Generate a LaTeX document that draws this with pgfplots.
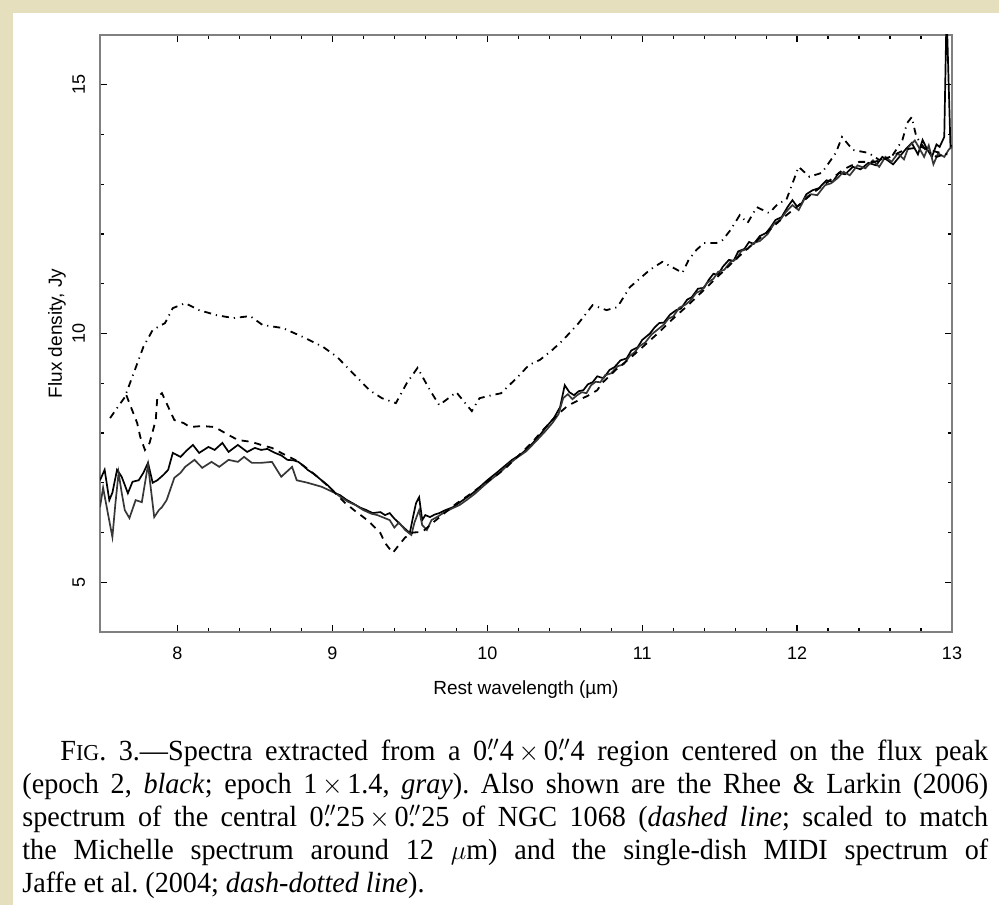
\documentclass[border=0pt]{standalone}
\usepackage{fontspec}
\setmainfont{Liberation Serif}
\newfontfamily\plotfont{Liberation Sans}
\usepackage{pgfplots}
\pgfplotsset{compat=1.18}
\definecolor{parch}{RGB}{230,223,190}
\definecolor{grayline}{RGB}{55,55,55}
\newcommand{\farcs}{\rlap{.}\kern0.02em$''$}
\newcommand{\tms}{\,$\times$\,}
\begin{document}
\begin{tikzpicture}
\useasboundingbox (0,0) rectangle (499.5pt,452.5pt);
\fill[parch] (0,0) rectangle (499.5pt,452.5pt);
\fill[white] (6.5pt,0) rectangle (499.5pt,446pt);
\begin{axis}[
  at={(50pt,136.5pt)}, anchor=south west,
  scale only axis, width=426pt, height=298.5pt,
  xmin=7.5, xmax=13, ymin=4, ymax=16,
  xtick={8,9,10,11,12,13}, ytick={5,10,15},
  minor x tick num=4, minor y tick num=4,
  tick align=inside, tickpos=both,
  major tick length=3.5pt, minor tick length=2pt,
  every tick/.style={black, line width=0.6pt},
  axis line style={line width=1.2pt, black!50},
  /pgf/number format/assume math mode=true,
  ticklabel style={font=\plotfont\fontsize{9}{10}\selectfont},
  xticklabel style={yshift=-4pt},
  yticklabel style={xshift=-4pt, rotate=90, anchor=south},
  xlabel={Rest wavelength (µm)}, ylabel={Flux density, Jy},
  every axis x label/.style={at={(axis description cs:0.5,0)}, yshift=-29pt, anchor=center, font=\plotfont\fontsize{9.5}{11}\selectfont},
  every axis y label/.style={at={(axis description cs:0,0.5)}, xshift=-21.5pt, rotate=90, anchor=center, font=\plotfont\fontsize{9.5}{11}\selectfont},
  clip=true,
]
% epoch 2 (black)
\addplot[black, line width=0.85pt] coordinates {
(7.50,7.05)(7.53,7.26)(7.56,6.65)(7.58,6.8)(7.61,7.26)(7.64,7.12)(7.68,6.79)(7.71,7.02)(7.75,7.05)(7.78,7.2)(7.81,7.40)(7.84,7.0)(7.87,7.05)(7.91,7.16)(7.94,7.26)(7.97,7.60)(8.02,7.52)(8.06,7.65)(8.10,7.76)(8.14,7.60)(8.20,7.72)(8.24,7.66)(8.29,7.80)(8.33,7.62)(8.39,7.76)(8.45,7.62)(8.50,7.70)(8.54,7.66)(8.58,7.68)(8.63,7.60)(8.67,7.55)(8.71,7.46)(8.75,7.45)(8.78,7.42)(8.81,7.35)(8.84,7.26)(8.88,7.18)(8.93,7.05)(8.97,6.95)(9.02,6.79)(9.05,6.75)(9.09,6.66)(9.13,6.59)(9.18,6.50)(9.22,6.45)(9.26,6.39)(9.31,6.41)(9.34,6.35)(9.37,6.39)(9.40,6.28)(9.43,6.19)(9.46,6.10)(9.50,5.99)(9.52,6.3)(9.54,6.59)(9.56,6.71)(9.58,6.25)(9.60,6.35)(9.63,6.31)(9.66,6.36)(9.69,6.39)(9.73,6.45)(9.78,6.51)(9.82,6.60)(9.87,6.71)(9.91,6.80)(9.95,6.91)(10.00,7.05)(10.06,7.20)(10.11,7.33)(10.16,7.46)(10.22,7.58)(10.27,7.72)(10.33,7.92)(10.38,8.12)(10.43,8.30)(10.47,8.52)(10.50,8.96)(10.53,8.82)(10.56,8.76)(10.59,8.84)(10.62,8.86)(10.65,8.98)(10.68,9.02)(10.71,9.14)(10.75,9.10)(10.79,9.27)(10.82,9.32)(10.86,9.46)(10.90,9.50)(10.93,9.66)(10.97,9.72)(11.00,9.87)(11.05,10.00)(11.08,10.12)(11.11,10.21)(11.14,10.22)(11.18,10.38)(11.22,10.47)(11.25,10.50)(11.29,10.68)(11.32,10.73)(11.36,10.90)(11.40,10.92)(11.43,11.08)(11.46,11.20)(11.49,11.18)(11.52,11.34)(11.56,11.48)(11.59,11.46)(11.62,11.65)(11.66,11.70)(11.69,11.84)(11.72,11.80)(11.76,11.96)(11.80,12.02)(11.83,12.14)(11.86,12.28)(11.90,12.34)(11.94,12.55)(11.97,12.68)(12.00,12.55)(12.03,12.62)(12.06,12.80)(12.10,12.88)(12.14,12.92)(12.19,13.08)(12.23,13.05)(12.27,13.23)(12.31,13.20)(12.36,13.35)(12.41,13.30)(12.46,13.43)(12.51,13.38)(12.55,13.55)(12.58,13.49)(12.62,13.40)(12.66,13.55)(12.70,13.70)(12.74,13.83)(12.78,13.60)(12.81,13.89)(12.84,13.70)(12.87,13.55)(12.90,13.80)(12.92,13.75)(12.95,13.95)(12.965,16.5)(12.99,13.75)(13.0,13.78)
};
% epoch 1 x 1.4 (gray)
\addplot[grayline, line width=0.85pt] coordinates {
(7.50,6.51)(7.52,6.9)(7.55,6.4)(7.58,5.91)(7.60,6.6)(7.62,7.20)(7.64,6.8)(7.66,6.45)(7.69,6.29)(7.73,6.65)(7.77,6.61)(7.81,7.36)(7.85,6.31)(7.88,6.45)(7.90,6.51)(7.93,6.65)(7.98,7.10)(8.02,7.20)(8.05,7.32)(8.11,7.46)(8.16,7.30)(8.22,7.42)(8.27,7.32)(8.33,7.46)(8.39,7.42)(8.43,7.52)(8.48,7.40)(8.54,7.40)(8.61,7.42)(8.67,7.12)(8.74,7.32)(8.77,7.05)(8.84,7.00)(8.93,6.92)(9.02,6.79)(9.06,6.70)(9.10,6.62)(9.15,6.55)(9.20,6.45)(9.25,6.38)(9.29,6.35)(9.33,6.30)(9.37,6.25)(9.40,6.10)(9.43,6.20)(9.47,6.05)(9.51,5.95)(9.53,6.20)(9.56,6.45)(9.58,6.15)(9.61,6.05)(9.64,6.25)(9.68,6.32)(9.72,6.40)(9.77,6.48)(9.82,6.55)(9.87,6.66)(9.92,6.78)(9.97,6.92)(10.03,7.08)(10.08,7.20)(10.13,7.35)(10.19,7.50)(10.25,7.63)(10.31,7.82)(10.37,8.02)(10.42,8.20)(10.46,8.38)(10.49,8.70)(10.52,8.78)(10.55,8.68)(10.58,8.76)(10.61,8.82)(10.64,8.80)(10.67,8.96)(10.70,9.03)(10.73,9.02)(10.76,9.16)(10.80,9.20)(10.84,9.34)(10.88,9.38)(10.92,9.55)(10.95,9.62)(10.98,9.74)(11.02,9.82)(11.06,9.98)(11.10,10.08)(11.14,10.18)(11.17,10.30)(11.20,10.34)(11.24,10.52)(11.28,10.58)(11.31,10.66)(11.35,10.82)(11.38,10.86)(11.42,11.02)(11.46,11.10)(11.49,11.24)(11.53,11.28)(11.57,11.44)(11.61,11.50)(11.64,11.66)(11.68,11.70)(11.72,11.82)(11.76,11.86)(11.81,12.00)(11.85,12.20)(11.89,12.28)(11.93,12.45)(11.97,12.58)(12.01,12.48)(12.05,12.72)(12.09,12.80)(12.13,12.78)(12.18,12.98)(12.22,13.02)(12.26,13.12)(12.30,13.25)(12.34,13.18)(12.39,13.38)(12.44,13.32)(12.49,13.48)(12.53,13.35)(12.57,13.55)(12.61,13.45)(12.65,13.62)(12.69,13.50)(12.72,13.75)(12.76,13.88)(12.79,13.72)(12.82,13.55)(12.85,13.78)(12.88,13.40)(12.91,13.62)(12.95,13.55)(12.98,13.70)(13.00,13.75)
};
% Rhee & Larkin (dashed)
\addplot[black, line width=0.9pt, dash pattern=on 3.5pt off 3pt] coordinates {
(7.67,8.76)(7.74,8.20)(7.76,7.92)(7.79,7.66)(7.82,7.80)(7.86,8.26)(7.87,8.72)(7.90,8.80)(7.95,8.46)(7.98,8.26)(8.04,8.20)(8.08,8.12)(8.16,8.14)(8.24,8.12)(8.33,7.96)(8.39,7.86)(8.48,7.82)(8.54,7.76)(8.61,7.70)(8.67,7.60)(8.76,7.46)(8.84,7.28)(8.92,7.08)(9.00,6.85)(9.08,6.60)(9.14,6.45)(9.20,6.31)(9.24,6.21)(9.31,5.99)(9.34,5.79)(9.39,5.59)(9.42,5.71)(9.47,5.90)(9.52,6.00)(9.58,6.01)(9.65,6.20)(9.72,6.38)(9.80,6.58)(9.88,6.75)(9.99,7.00)(10.06,7.15)(10.12,7.30)(10.18,7.48)(10.24,7.66)(10.30,7.85)(10.36,8.06)(10.45,8.36)(10.52,8.55)(10.59,8.66)(10.65,8.75)(10.71,8.86)(10.74,9.00)(10.83,9.27)(10.92,9.50)(11.00,9.72)(11.10,10.00)(11.20,10.30)(11.30,10.58)(11.40,10.88)(11.50,11.18)(11.60,11.48)(11.70,11.76)(11.80,12.02)(11.90,12.30)(12.00,12.55)(12.10,12.82)(12.20,13.05)(12.30,13.30)(12.40,13.45)(12.50,13.45)(12.60,13.55)(12.70,13.70)(12.80,13.75)(12.90,13.65)(12.97,13.60)
};
% MIDI single-dish (dash-dotted)
\addplot[black, line width=0.9pt, dash pattern=on 3.5pt off 2.5pt on 0.6pt off 2.5pt] coordinates {
(7.565,8.30)(7.66,8.72)(7.78,9.73)(7.84,10.07)(7.92,10.21)(7.97,10.51)(8.05,10.61)(8.14,10.47)(8.25,10.37)(8.36,10.31)(8.47,10.35)(8.55,10.17)(8.68,10.11)(8.81,9.93)(8.94,9.73)(9.03,9.53)(9.13,9.21)(9.24,8.86)(9.32,8.70)(9.41,8.60)(9.48,9.00)(9.55,9.31)(9.63,8.86)(9.69,8.56)(9.80,8.82)(9.90,8.44)(9.95,8.70)(10.03,8.76)(10.09,8.80)(10.21,9.17)(10.27,9.37)(10.34,9.47)(10.42,9.67)(10.49,9.87)(10.59,10.21)(10.68,10.57)(10.77,10.47)(10.84,10.53)(10.92,10.93)(11.05,11.28)(11.13,11.44)(11.19,11.34)(11.26,11.22)(11.30,11.48)(11.35,11.68)(11.40,11.82)(11.48,11.82)(11.52,11.88)(11.57,12.08)(11.63,12.38)(11.68,12.22)(11.74,12.54)(11.82,12.42)(11.88,12.62)(11.93,12.68)(12.01,13.35)(12.08,13.15)(12.16,13.23)(12.25,13.63)(12.29,13.95)(12.36,13.69)(12.46,13.63)(12.53,13.49)(12.61,13.55)(12.68,13.89)(12.71,14.23)(12.74,14.35)(12.77,13.95)(12.83,13.69)(12.90,13.55)(12.95,13.60)
};
\end{axis}
\node[anchor=north west, inner sep=0pt] at (11pt,83pt) {\scalebox{1.1}[1.14]{\parbox[t]{439pt}{\fontsize{12.8}{14.5}\selectfont\frenchspacing\parindent=17.3pt
F{\fontsize{10}{10}\selectfont IG}. 3.---Spectra extracted from a 0\farcs4\tms0\farcs4 region centered on the flux peak\linebreak
(epoch 2, \textit{black}; epoch 1\tms1.4, \textit{gray}). Also shown are the Rhee \& Larkin (2006)\linebreak
spectrum of the central 0\farcs25\tms0\farcs25 of NGC 1068 (\textit{dashed line}; scaled to match\linebreak
the Michelle spectrum around 12 $\mu$m) and the single-dish MIDI spectrum of\linebreak
Jaffe et al. (2004; \textit{dash-dotted line}).\par}}};
\end{tikzpicture}
\end{document}
